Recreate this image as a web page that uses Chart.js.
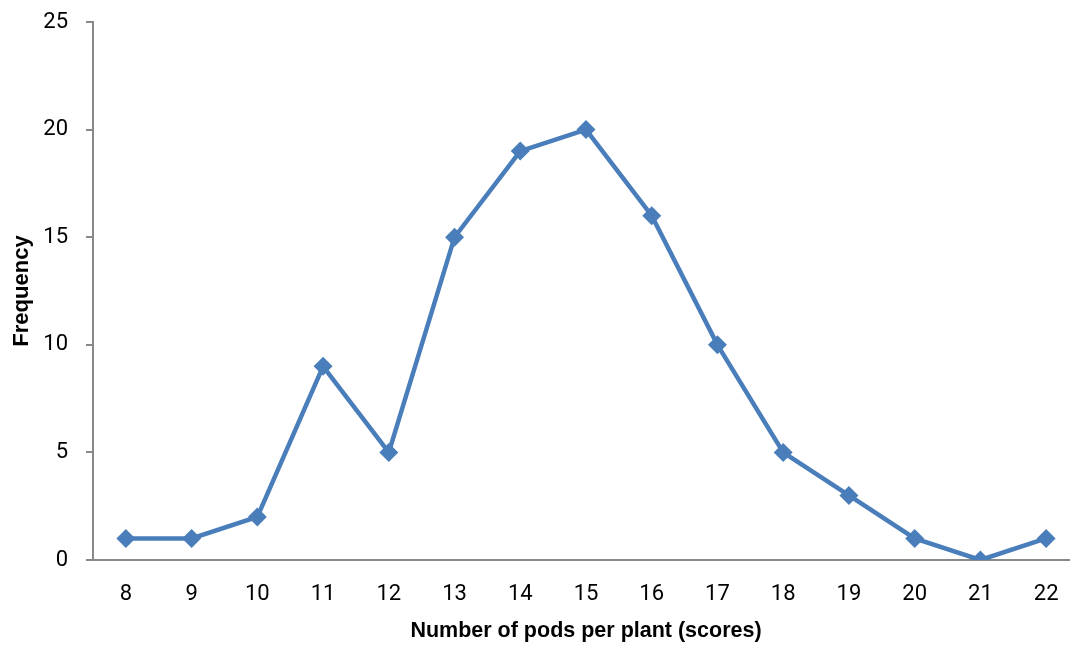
<!DOCTYPE html>
<html>
<head>
<meta charset="utf-8">
<script src="https://cdn.jsdelivr.net/npm/chart.js@4/dist/chart.umd.min.js"></script>
<style>
  html, body { margin: 0; padding: 0; background: #fff; overflow: hidden; }
  canvas { display: block; }
</style>
</head>
<body>
<canvas id="podChart" width="1079" height="646"></canvas>
<script>
const podScores = ["8", "9", "10", "11", "12", "13", "14", "15", "16", "17", "18", "19", "20", "21", "22"];
const frequency = [1, 1, 2, 9, 5, 15, 19, 20, 16, 10, 5, 3, 1, 0, 1];
const yTicks = [0, 5, 10, 15, 20, 25];

const axisGrey = "#898989";
const lineBlue = "#4a7ebb";
const tickFont = { family: "Roboto", size: 22 };

const ctx = document.getElementById("podChart").getContext("2d");

new Chart(ctx, {
  type: "line",
  data: {
    labels: podScores,
    datasets: [
      {
        label: "Frequency",
        data: frequency,
        borderColor: lineBlue,
        backgroundColor: lineBlue,
        borderWidth: 4.5,
        pointStyle: "rectRot",
        pointRadius: 9.5,
        pointBorderWidth: 0,
        tension: 0,
      },
    ],
  },
  options: {
    responsive: false,
    animation: false,
    layout: { autoPadding: false, padding: { top: 22, right: 0, bottom: 0, left: 0 } },
    plugins: {
      legend: { display: false },
      tooltip: { enabled: false },
    },
    scales: {
      x: {
        offset: true,
        grid: { display: false },
        border: { display: true, color: axisGrey, width: 2 },
        ticks: {
          color: "#000",
          padding: 13,
          maxRotation: 0,
          autoSkip: false,
          font: tickFont,
        },
        title: {
          display: true,
          text: "Number of pods per plant (scores)",
          color: "#000",
          padding: { top: 0, bottom: 2 },
          font: { family: "Liberation Sans", size: 21.5, weight: "bold" },
        },
        afterFit: (scale) => {
          scale.height = 86;
          scale.paddingLeft = 0;
          scale.paddingRight = 0;
        },
      },
      y: {
        min: 0,
        max: 25,
        afterBuildTicks: (scale) => { scale.ticks = yTicks.map((v) => ({ value: v })); },
        grid: {
          display: true,
          drawOnChartArea: false,
          drawTicks: true,
          tickLength: 7,
          color: axisGrey,
          lineWidth: 2,
        },
        border: { display: true, color: axisGrey, width: 2 },
        ticks: {
          color: "#000",
          padding: 18,
          font: tickFont,
        },
        title: {
          display: true,
          text: "Frequency",
          color: "#000",
          padding: { top: 9, bottom: 0 },
          font: { family: "Liberation Sans", size: 22, weight: "bold" },
        },
        afterFit: (scale) => {
          scale.width = 93;
          scale.paddingTop = 0;
          scale.paddingBottom = 0;
        },
      },
    },
  },
});
</script>
</body>
</html>
